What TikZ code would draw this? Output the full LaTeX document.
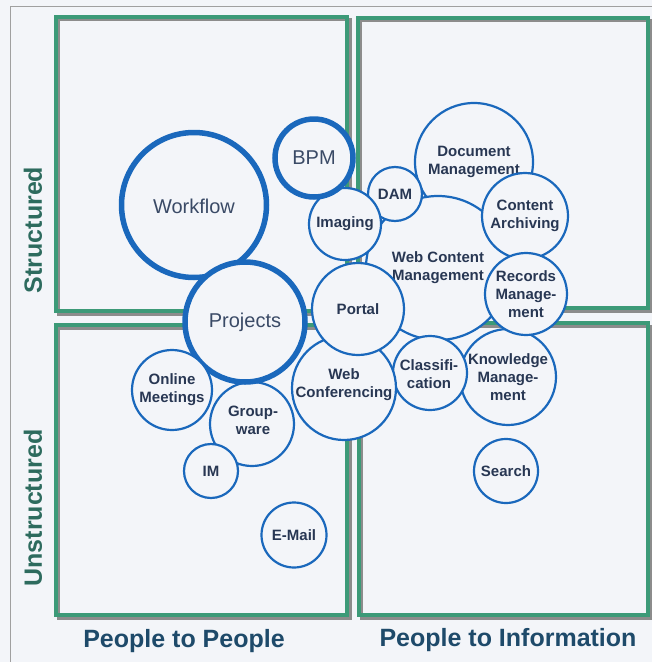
\documentclass[tikz,border=0pt]{standalone}
\usepackage{fontspec}
\setmainfont{Liberation Sans}
\definecolor{bgc}{HTML}{F3F5F9}
\definecolor{framegray}{HTML}{A0A0A0}
\definecolor{qgreen}{HTML}{3C9A78}
\definecolor{shadowc}{HTML}{8C8C8C}
\definecolor{bblue}{HTML}{1A68BC}
\definecolor{labc}{HTML}{283753}
\definecolor{biglabc}{HTML}{3A4A66}
\definecolor{axisg}{HTML}{2D6B5E}
\definecolor{axisb}{HTML}{1E4A6A}
\tikzset{
  quad/.style={draw=qgreen, line width=4pt},
  quadshadow/.style={draw=shadowc, line width=3pt},
  bub/.style={circle, draw=bblue, fill=bgc, line width=2.2pt, inner sep=0pt},
  thickbub/.style={bub, line width=5.5pt},
  lab/.style={align=center, text=labc, font=\fontsize{15}{18}\selectfont\bfseries, inner sep=0pt},
  biglab/.style={align=center, text=biglabc, font=\fontsize{20}{24}\selectfont, inner sep=0pt},
  axislab/.style={font=\fontsize{25}{30}\selectfont\bfseries, inner sep=0pt},
}
\begin{document}
\begin{tikzpicture}[x=1pt,y=-1pt]
\useasboundingbox (0,0) rectangle (652,662);
\fill[bgc] (0,0) rectangle (652,662);
% outer thin frame
\draw[framegray, line width=0.8pt] (652,6) -- (10,6) -- (10,662);
% quadrant frames with shadow
\draw[quadshadow] (58,19) rectangle (350,314);
\draw[quadshadow] (360,20) rectangle (651,311);
\draw[quadshadow] (58,328) rectangle (350,618);
\draw[quadshadow] (361,326) rectangle (651,618);
\draw[quad] (56,17) rectangle (347,311);
\draw[quad] (358,18) rectangle (648,308);
\draw[quad] (56,325) rectangle (347,615);
\draw[quad] (359,323) rectangle (648,615);
% bubbles
\node[bub, minimum size=118pt] (doc) at (474,162) {};
\node[lab] (doc-t) at (474,162) {Document\\Management};
\node[bub, minimum size=144pt] (wcm) at (438,268) {};
\node[lab] (wcm-t) at (438,268) {Web Content\\Management};
\node[bub, minimum size=54pt] (dam) at (395,194) {};
\node[lab] (dam-t) at (395,194) {DAM};
\node[bub, minimum size=72pt] (img) at (345,224) {};
\node[lab] (img-t) at (345,224) {Imaging};
\node[thickbub, minimum size=78pt] (bpm) at (314,158) {};
\node[biglab] (bpm-t) at (314,158) {BPM};
\node[bub, minimum size=86pt] (arch) at (525,216) {};
\node[lab] (arch-t) at (525,216) {Content\\Archiving};
\node[bub, minimum size=96pt] (km) at (508,377) {};
\node[lab] (km-t) at (508,377) {Knowledge\\Manage-\\ment};
\node[bub, minimum size=82pt] (rec) at (526,294) {};
\node[lab] (rec-t) at (526,294) {Records\\Manage-\\ment};
\node[bub, minimum size=74pt] (cls) at (430,373) {};
\node[lab] (cls-t) at (429,374) {Classifi-\\cation};
\node[bub, minimum size=104pt] (wconf) at (344,388) {};
\node[lab] (wconf-t) at (344,385) {Web\\Conferencing};
\node[bub, minimum size=92pt] (portal) at (358,309) {};
\node[lab] (portal-t) at (358,309) {Portal};
\node[thickbub, minimum size=145pt] (wf) at (194,205) {};
\node[biglab] (wf-t) at (194,206) {Workflow};
\node[bub, minimum size=84pt] (grp) at (252,424) {};
\node[lab] (grp-t) at (253,420) {Group-\\ware};
\node[thickbub, minimum size=120pt] (proj) at (245,322) {};
\node[biglab] (proj-t) at (245,322) {Projects};
\node[bub, minimum size=80pt] (onl) at (172,390) {};
\node[lab] (onl-t) at (172,390) {Online\\Meetings};
\node[bub, minimum size=54pt] (im) at (211,471) {};
\node[lab] (im-t) at (211,471) {IM};
\node[bub, minimum size=65pt] (mail) at (294,535) {};
\node[lab] (mail-t) at (294,535) {E-Mail};
\node[bub, minimum size=64pt] (search) at (506,471) {};
\node[lab] (search-t) at (506,471) {Search};
% axis labels
\node[axislab, text=axisg, rotate=90] (ystr) at (33,230) {Structured};
\node[axislab, text=axisg, rotate=90] (yunstr) at (33,508) {Unstructured};
\node[axislab, text=axisb] (xp2p) at (184,641) {People to People};
\node[axislab, text=axisb] (xp2i) at (508,640) {People to Information};
\end{tikzpicture}
\end{document}
